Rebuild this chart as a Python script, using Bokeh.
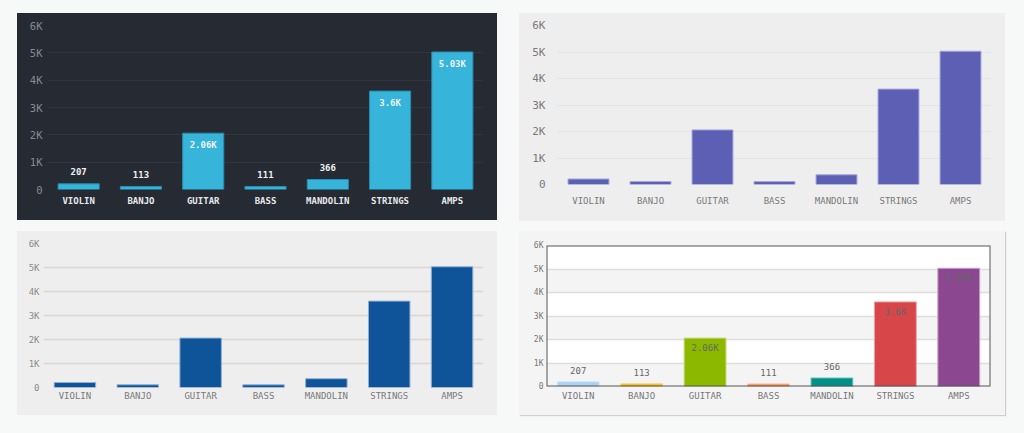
from bokeh.plotting import figure
from bokeh.models import (ColumnDataSource, Range1d, FactorRange, FixedTicker, Spacer,
                          GlobalInlineStyleSheet, BoxAnnotation)
from bokeh.layouts import row, column
from bokeh.core.properties import value
from bokeh.embed import file_html
from bokeh.resources import INLINE

categories = ["VIOLIN", "BANJO", "GUITAR", "BASS", "MANDOLIN", "STRINGS", "AMPS"]
sales = [207, 113, 2060, 111, 366, 3600, 5030]
y_ticks = [0, 1000, 2000, 3000, 4000, 5000, 6000]
y_tick_labels = ["0", "1K", "2K", "3K", "4K", "5K", "6K"]
palette4 = ["#a9d3f5", "#f2b705", "#8cb800", "#f5894d", "#009088", "#d74649", "#8b4890"]
palette4_line = ["#d4e9fa", "#f8d77a", "#c5dc7f", "#fac4a6", "#7fc7c3", "#eba2a4", "#c5a3c7"]

FONT = "DejaVu Sans Mono"


def fmt(v):
    if v < 1000:
        return str(v)
    return ("%.2f" % (v / 1000.0)).rstrip("0").rstrip(".") + "K"


def make_source(inside_off, outside_off):
    labels = [fmt(v) for v in sales]
    yoff = [inside_off if v >= 1000 else outside_off for v in sales]
    return ColumnDataSource(dict(cat=categories, val=sales, lab=labels, yoff=yoff))


def base_fig(width, height, left, right, top, bottom, border_fill, bg):
    p = figure(width=width, height=height, x_range=FactorRange(*categories),
               y_range=Range1d(0, 6000), output_backend="svg", toolbar_location=None,
               min_border_left=left, min_border_right=right, min_border_top=top,
               min_border_bottom=bottom, border_fill_color=border_fill,
               background_fill_color=bg)
    p.styles = {"background-color": border_fill}
    p.outline_line_color = None
    p.outline_line_alpha = 0
    p.frame_align = False
    p.xgrid.grid_line_color = None
    p.yaxis.ticker = FixedTicker(ticks=y_ticks)
    p.yaxis.major_label_overrides = {t: l for t, l in zip(y_ticks, y_tick_labels)}
    for ax in (p.xaxis[0], p.yaxis[0]):
        ax.axis_line_color = None
        ax.major_tick_line_color = None
        ax.minor_tick_line_color = None
        ax.major_tick_in = 0
        ax.major_tick_out = 0
        ax.minor_tick_out = 0
        ax.major_label_text_font = FONT
    p.ygrid.ticker = FixedTicker(ticks=y_ticks)
    return p


# Panel 1: dark
p1 = base_fig(480, 207, 30, 14, 12, 31, "#262a33", "#262a33")
p1.ygrid.grid_line_color = "#30353f"
p1.ygrid.grid_line_width = 1
p1.yaxis.major_label_text_color = "#868b94"
p1.yaxis.major_label_text_font_size = "10.5px"
p1.yaxis.major_label_standoff = 5
p1.xaxis.major_label_text_color = "#e6e8ea"
p1.xaxis.major_label_text_font_size = "9px"
p1.xaxis.major_label_text_font_style = "bold"
p1.xaxis.major_label_standoff = 6
s1 = make_source(12, -12)
p1.vbar(x="cat", top="val", width=0.66, source=s1, fill_color="#36b4d9",
        line_color="#2a8cae", line_width=1)
p1.text(x="cat", y="val", text="lab", y_offset="yoff", source=s1, text_align="center",
        text_baseline="middle", text_color="#eef2f4", text_font=value(FONT),
        text_font_size="9px", text_font_style="bold")

# Panel 2: light gray, purple bars
p2 = base_fig(486, 208, 38, 14, 12, 37, "#eeeeee", "#eeeeee")
p2.ygrid.grid_line_color = "#e4e4e4"
p2.yaxis.major_label_text_color = "#7a7a7a"
p2.yaxis.major_label_text_font_size = "11px"
p2.yaxis.major_label_standoff = 12
p2.xaxis.major_label_text_color = "#7a7a7a"
p2.xaxis.major_label_text_font_size = "9px"
p2.xaxis.major_label_standoff = 11
p2.vbar(x="cat", top="val", width=0.66, source=ColumnDataSource(dict(cat=categories, val=sales)),
        fill_color="#5c5fb3", line_color="#a4a6dc", line_width=1)

# Panel 3: light gray, dark blue bars
p3 = base_fig(480, 184, 26, 14, 12, 28, "#eeeeee", "#eeeeee")
p3.ygrid.grid_line_color = "#dcd8d0"
p3.ygrid.grid_line_width = 1.5
p3.yaxis.major_label_text_color = "#8a8a8a"
p3.yaxis.major_label_text_font_size = "9px"
p3.yaxis.major_label_standoff = 4
p3.xaxis.major_label_text_color = "#7a7a7a"
p3.xaxis.major_label_text_font_size = "9px"
p3.xaxis.major_label_standoff = 3
p3.vbar(x="cat", top="val", width=0.66, source=ColumnDataSource(dict(cat=categories, val=sales)),
        fill_color="#0f5499", line_color="#8fb0d4", line_width=1)

# Panel 4: framed, multicolour bars, banded background
p4 = base_fig(486, 184, 27, 15, 14, 29, "#f4f4f4", "#f4f4f4")
p4.styles = {"background-color": "#f4f4f4", "box-shadow": "1px 1px 1px #cfcfcf"}
p4.ygrid.grid_line_color = "#dddddd"
p4.ygrid.grid_line_width = 1.5
p4.ygrid.band_fill_color = "#ffffff"
p4.ygrid.band_fill_alpha = 1.0
p4.yaxis.major_label_text_color = "#777777"
p4.yaxis.major_label_text_font_size = "8px"
p4.yaxis.major_label_standoff = 3
p4.xaxis.major_label_text_color = "#777777"
p4.xaxis.major_label_text_font_size = "9px"
p4.xaxis.major_label_standoff = 4
s4 = make_source(10, -11)
s4.data["fill"] = palette4
s4.data["line"] = palette4_line
p4.vbar(x="cat", top="val", width=0.66, source=s4, fill_color="fill",
        line_color="line", line_width=1)
p4.text(x="cat", y="val", text="lab", y_offset="yoff", source=s4, text_align="center",
        text_baseline="middle", text_color="#666666", text_font=value(FONT),
        text_font_size="9px")
p4.add_layout(BoxAnnotation(fill_alpha=0, line_color="#555555", line_width=2, line_alpha=1,
                            level="overlay"))

root = column(
    Spacer(height=13),
    row(Spacer(width=17), p1, Spacer(width=22), p2, spacing=0),
    Spacer(height=10),
    row(Spacer(width=17), p3, Spacer(width=22), p4, spacing=0),
    spacing=0,
)
root.stylesheets = [GlobalInlineStyleSheet(css="html, body { background-color: #f7f9f9; }")]

open("out.html", "w").write(file_html(root, INLINE))
